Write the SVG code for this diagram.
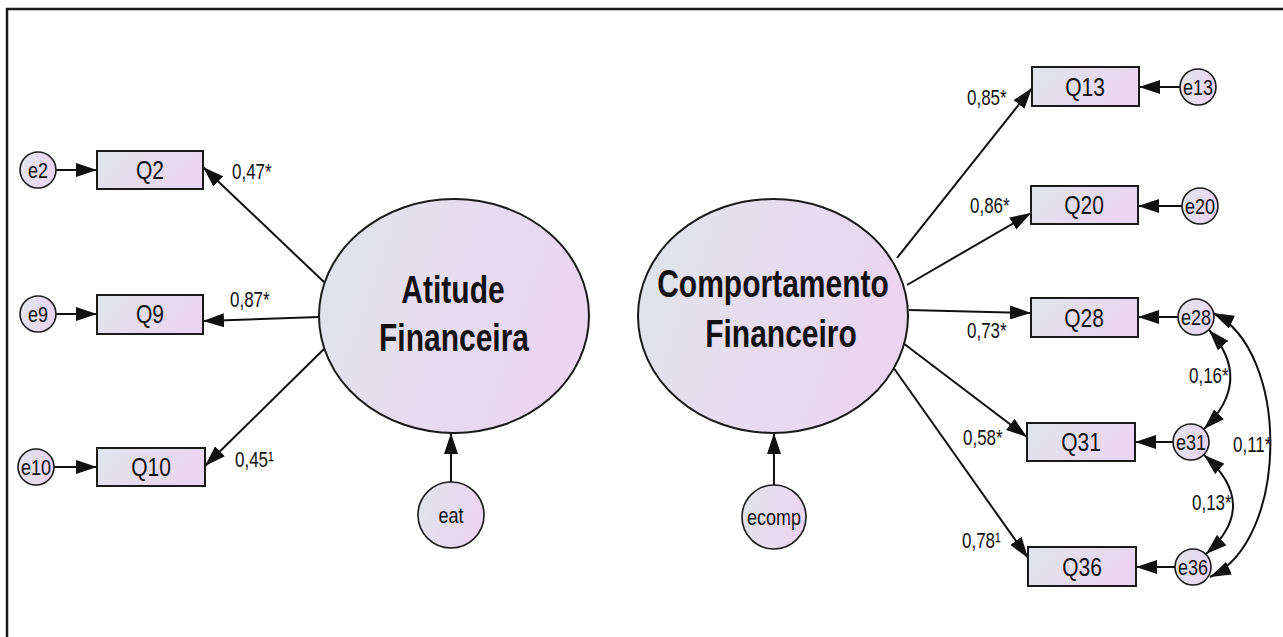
<svg xmlns="http://www.w3.org/2000/svg" width="1283" height="637" viewBox="0 0 1283 637">
<style>
.box{stroke:#1a1a1a;stroke-width:2;fill:url(#g)}
.lat{stroke:#1a1a1a;stroke-width:2;fill:url(#g)}
.err{stroke:#1a1a1a;stroke-width:1.6;fill:url(#g)}
.c{stroke:#111;stroke-width:2;fill:none;marker-end:url(#ah)}
.cov{stroke:#111;stroke-width:2;fill:none;marker-end:url(#ah);marker-start:url(#ah)}
text{font-family:"Liberation Sans",Arial,sans-serif;fill:#111}
.big{font-size:30px;font-weight:bold;text-anchor:middle}
.q{font-size:21px;text-anchor:middle}
.e{font-size:18px;text-anchor:middle}
.k{font-size:17px}
</style>
<defs>
<linearGradient id="g" x1="0" y1="0" x2="1" y2="0.3">
<stop offset="0" stop-color="#dfe5ea"/>
<stop offset="1" stop-color="#ebd5f2"/>
</linearGradient>
<marker id="ah" markerUnits="userSpaceOnUse" markerWidth="21" markerHeight="14" refX="21" refY="7" orient="auto-start-reverse">
<path d="M0,0 L21,7 L0,14 z" fill="#111"/>
</marker>
</defs>
<rect x="0" y="0" width="1283" height="637" fill="#fff"/>
<rect x="7" y="9" width="1300" height="660" fill="none" stroke="#1a1a1a" stroke-width="2.5"/>

<g id="connectors">
<path class="c" d="M56,170 L97,170"/>
<path class="c" d="M56,314 L97,314"/>
<path class="c" d="M54,467 L97,467"/>
<path class="c" d="M324,282 L203,167"/>
<path class="c" d="M319,317 L203,321"/>
<path class="c" d="M324,349 L205,466"/>
<path class="c" d="M451,482 L451,433"/>
<path class="c" d="M897,258 L1032,88"/>
<path class="c" d="M907,285 L1031,213"/>
<path class="c" d="M909,310 L1031,313"/>
<path class="c" d="M903,343 L1027,437"/>
<path class="c" d="M893,367 L1028,558"/>
<path class="c" d="M774,485 L774,433"/>
<path class="c" d="M1180,87 L1139,87"/>
<path class="c" d="M1182,206 L1138,206"/>
<path class="c" d="M1178,317 L1138,317"/>
<path class="c" d="M1173,442 L1135,442"/>
<path class="c" d="M1175,567 L1136,567"/>
<path class="cov" d="M1209,330 Q1254,380 1204,429"/>
<path class="cov" d="M1204,455 Q1261,505 1206,554"/>
<path class="cov" d="M1213,313 C1290,350 1290,540 1210,577"/>
<text class="k" transform="translate(232,179) scale(1,1.3)">0,47*</text>
<text class="k" transform="translate(230,307) scale(1,1.3)">0,87*</text>
<text class="k" transform="translate(235,467) scale(1,1.3)">0,45¹</text>
<text class="k" transform="translate(967,105) scale(1,1.3)">0,85*</text>
<text class="k" transform="translate(970,213) scale(1,1.3)">0,86*</text>
<text class="k" transform="translate(967,338) scale(1,1.3)">0,73*</text>
<text class="k" transform="translate(963,445) scale(1,1.3)">0,58*</text>
<text class="k" transform="translate(962,548) scale(1,1.3)">0,78¹</text>
<text class="k" transform="translate(1189,383) scale(1,1.3)" fill="#333">0,16*</text>
<text class="k" transform="translate(1192,510) scale(1,1.3)" fill="#333">0,13*</text>
<text class="k" transform="translate(1233,452) scale(1,1.3)" fill="#333">0,11*</text>
</g>

<g id="atitude"><ellipse class="lat" cx="454" cy="316" rx="135" ry="117"/>
<text class="big" transform="translate(453,303) scale(1,1.3)">Atitude</text>
<text class="big" transform="translate(454,351) scale(1,1.3)">Financeira</text></g>
<g id="comportamento"><ellipse class="lat" cx="773" cy="316" rx="135" ry="117"/>
<text class="big" transform="translate(773,297) scale(1,1.3)">Comportamento</text>
<text class="big" transform="translate(781,347) scale(1,1.3)">Financeiro</text></g>

<g id="Q2"><rect class="box" x="97" y="151" width="106" height="38"/><text class="q" transform="translate(150,179) scale(1,1.2)">Q2</text></g>
<g id="Q9"><rect class="box" x="97" y="295" width="106" height="39"/><text class="q" transform="translate(150,323) scale(1,1.2)">Q9</text></g>
<g id="Q10"><rect class="box" x="97" y="448" width="108" height="38"/><text class="q" transform="translate(151,476) scale(1,1.2)">Q10</text></g>
<g id="Q13"><rect class="box" x="1032" y="67" width="107" height="39"/><text class="q" transform="translate(1085,96) scale(1,1.2)">Q13</text></g>
<g id="Q20"><rect class="box" x="1031" y="186" width="107" height="38"/><text class="q" transform="translate(1084,214) scale(1,1.2)">Q20</text></g>
<g id="Q28"><rect class="box" x="1031" y="298" width="107" height="39"/><text class="q" transform="translate(1084,327) scale(1,1.2)">Q28</text></g>
<g id="Q31"><rect class="box" x="1027" y="423" width="108" height="38"/><text class="q" transform="translate(1081,451) scale(1,1.2)">Q31</text></g>
<g id="Q36"><rect class="box" x="1028" y="547" width="108" height="39"/><text class="q" transform="translate(1082,576) scale(1,1.2)">Q36</text></g>

<g id="e2"><circle class="err" cx="38" cy="170" r="18"/><text class="e" transform="translate(38,178) scale(1,1.25)">e2</text></g>
<g id="e9"><circle class="err" cx="38" cy="314" r="18"/><text class="e" transform="translate(38,322) scale(1,1.25)">e9</text></g>
<g id="e10"><circle class="err" cx="36" cy="467" r="18"/><text class="e" transform="translate(36,475) scale(1,1.25)">e10</text></g>
<g id="e13"><circle class="err" cx="1198" cy="87" r="18"/><text class="e" transform="translate(1198,95) scale(1,1.25)">e13</text></g>
<g id="e20"><circle class="err" cx="1200" cy="206" r="18"/><text class="e" transform="translate(1200,214) scale(1,1.25)">e20</text></g>
<g id="e28"><circle class="err" cx="1196" cy="317" r="18"/><text class="e" transform="translate(1196,325) scale(1,1.25)">e28</text></g>
<g id="e31"><circle class="err" cx="1191" cy="442" r="18"/><text class="e" transform="translate(1191,450) scale(1,1.25)">e31</text></g>
<g id="e36"><circle class="err" cx="1193" cy="567" r="18"/><text class="e" transform="translate(1193,575) scale(1,1.25)">e36</text></g>
<g id="eat"><circle class="err" cx="451" cy="515" r="33"/><text class="e" transform="translate(451,523) scale(1,1.25)">eat</text></g>
<g id="ecomp"><circle class="err" cx="774" cy="517" r="32"/><text class="e" transform="translate(774,525) scale(1,1.25)">ecomp</text></g>
</svg>
